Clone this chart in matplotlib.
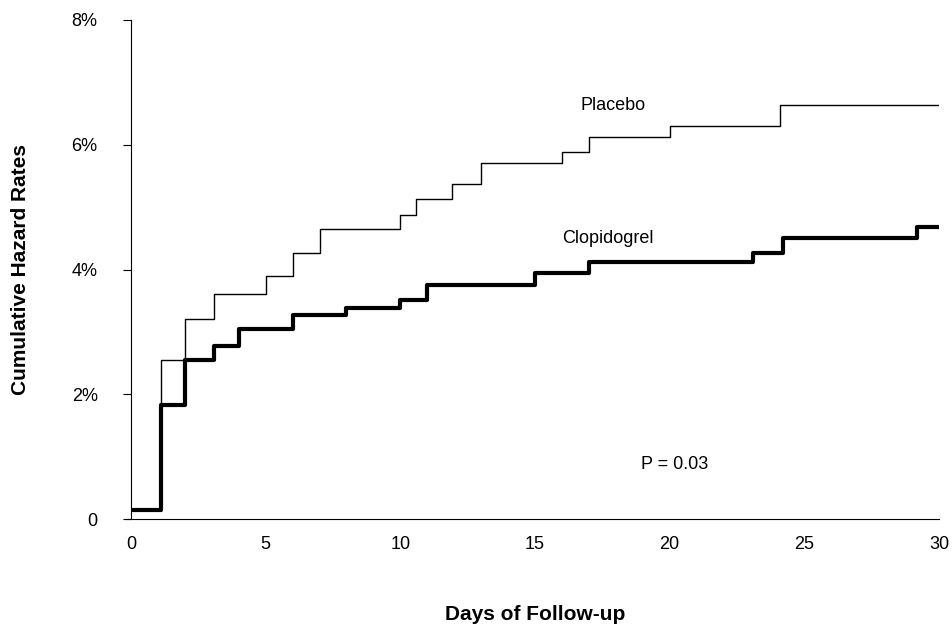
import matplotlib
matplotlib.use("Agg")
import matplotlib.pyplot as plt

plac_x = [0, 1.1, 2, 3.1, 5, 6, 7, 10, 10.6, 11.9, 13, 16, 17, 20, 24.1, 30]
plac_y = [0.15, 2.55, 3.2, 3.6, 3.9, 4.27, 4.65, 4.87, 5.13, 5.37, 5.7, 5.88, 6.12, 6.3, 6.63, 6.63]
clop_x = [0, 1.1, 2, 3.1, 4, 6, 8, 10, 11, 15, 17, 23.1, 24.2, 29.2, 30]
clop_y = [0.15, 1.83, 2.55, 2.77, 3.04, 3.27, 3.38, 3.51, 3.75, 3.94, 4.12, 4.26, 4.5, 4.68, 4.68]
yticks = [0, 2, 4, 6, 8]
ylabels = ["0", "2%", "4%", "6%", "8%"]
xticks = [0, 5, 10, 15, 20, 25, 30]

plt.rcParams['font.family'] = ['Liberation Sans', 'DejaVu Sans']
fig = plt.figure(figsize=(9.53, 6.41), dpi=100)
W = 808
ax = fig.add_axes([131/953, 1-519/641, W/953, 499/641])
ax.step(plac_x, plac_y, where='post', color='black', lw=1)
ax.step(clop_x, clop_y, where='post', color='black', lw=3)
ax.set_xlim(0, 30)
ax.set_ylim(0, 8)
ax.set_yticks(yticks)
ax.set_yticklabels(ylabels, fontsize=13)
ax.set_xticks(xticks)
ax.tick_params(axis='x', length=0, pad=12, labelsize=13)
ax.tick_params(axis='y', direction='out', length=6, pad=18, labelsize=13)
for s in ['top', 'right']:
    ax.spines[s].set_visible(False)
ax.spines['bottom'].set_bounds(-0.2, 30)
ax.set_xlabel("Days of Follow-up", fontsize=15, fontweight='bold', labelpad=38)
ax.yaxis.set_label_coords(-110/W, 0.5)
ax.set_ylabel("Cumulative Hazard Rates", fontsize=15, fontweight='bold', va='center')
ax.text(17.9, 6.63, "Placebo", ha='center', va='center', fontsize=13)
ax.text(17.7, 4.5, "Clopidogrel", ha='center', va='center', fontsize=13)
ax.text(20.2, 0.88, "P = 0.03", ha='center', va='center', fontsize=13)
fig.savefig("out.png", dpi=100)
